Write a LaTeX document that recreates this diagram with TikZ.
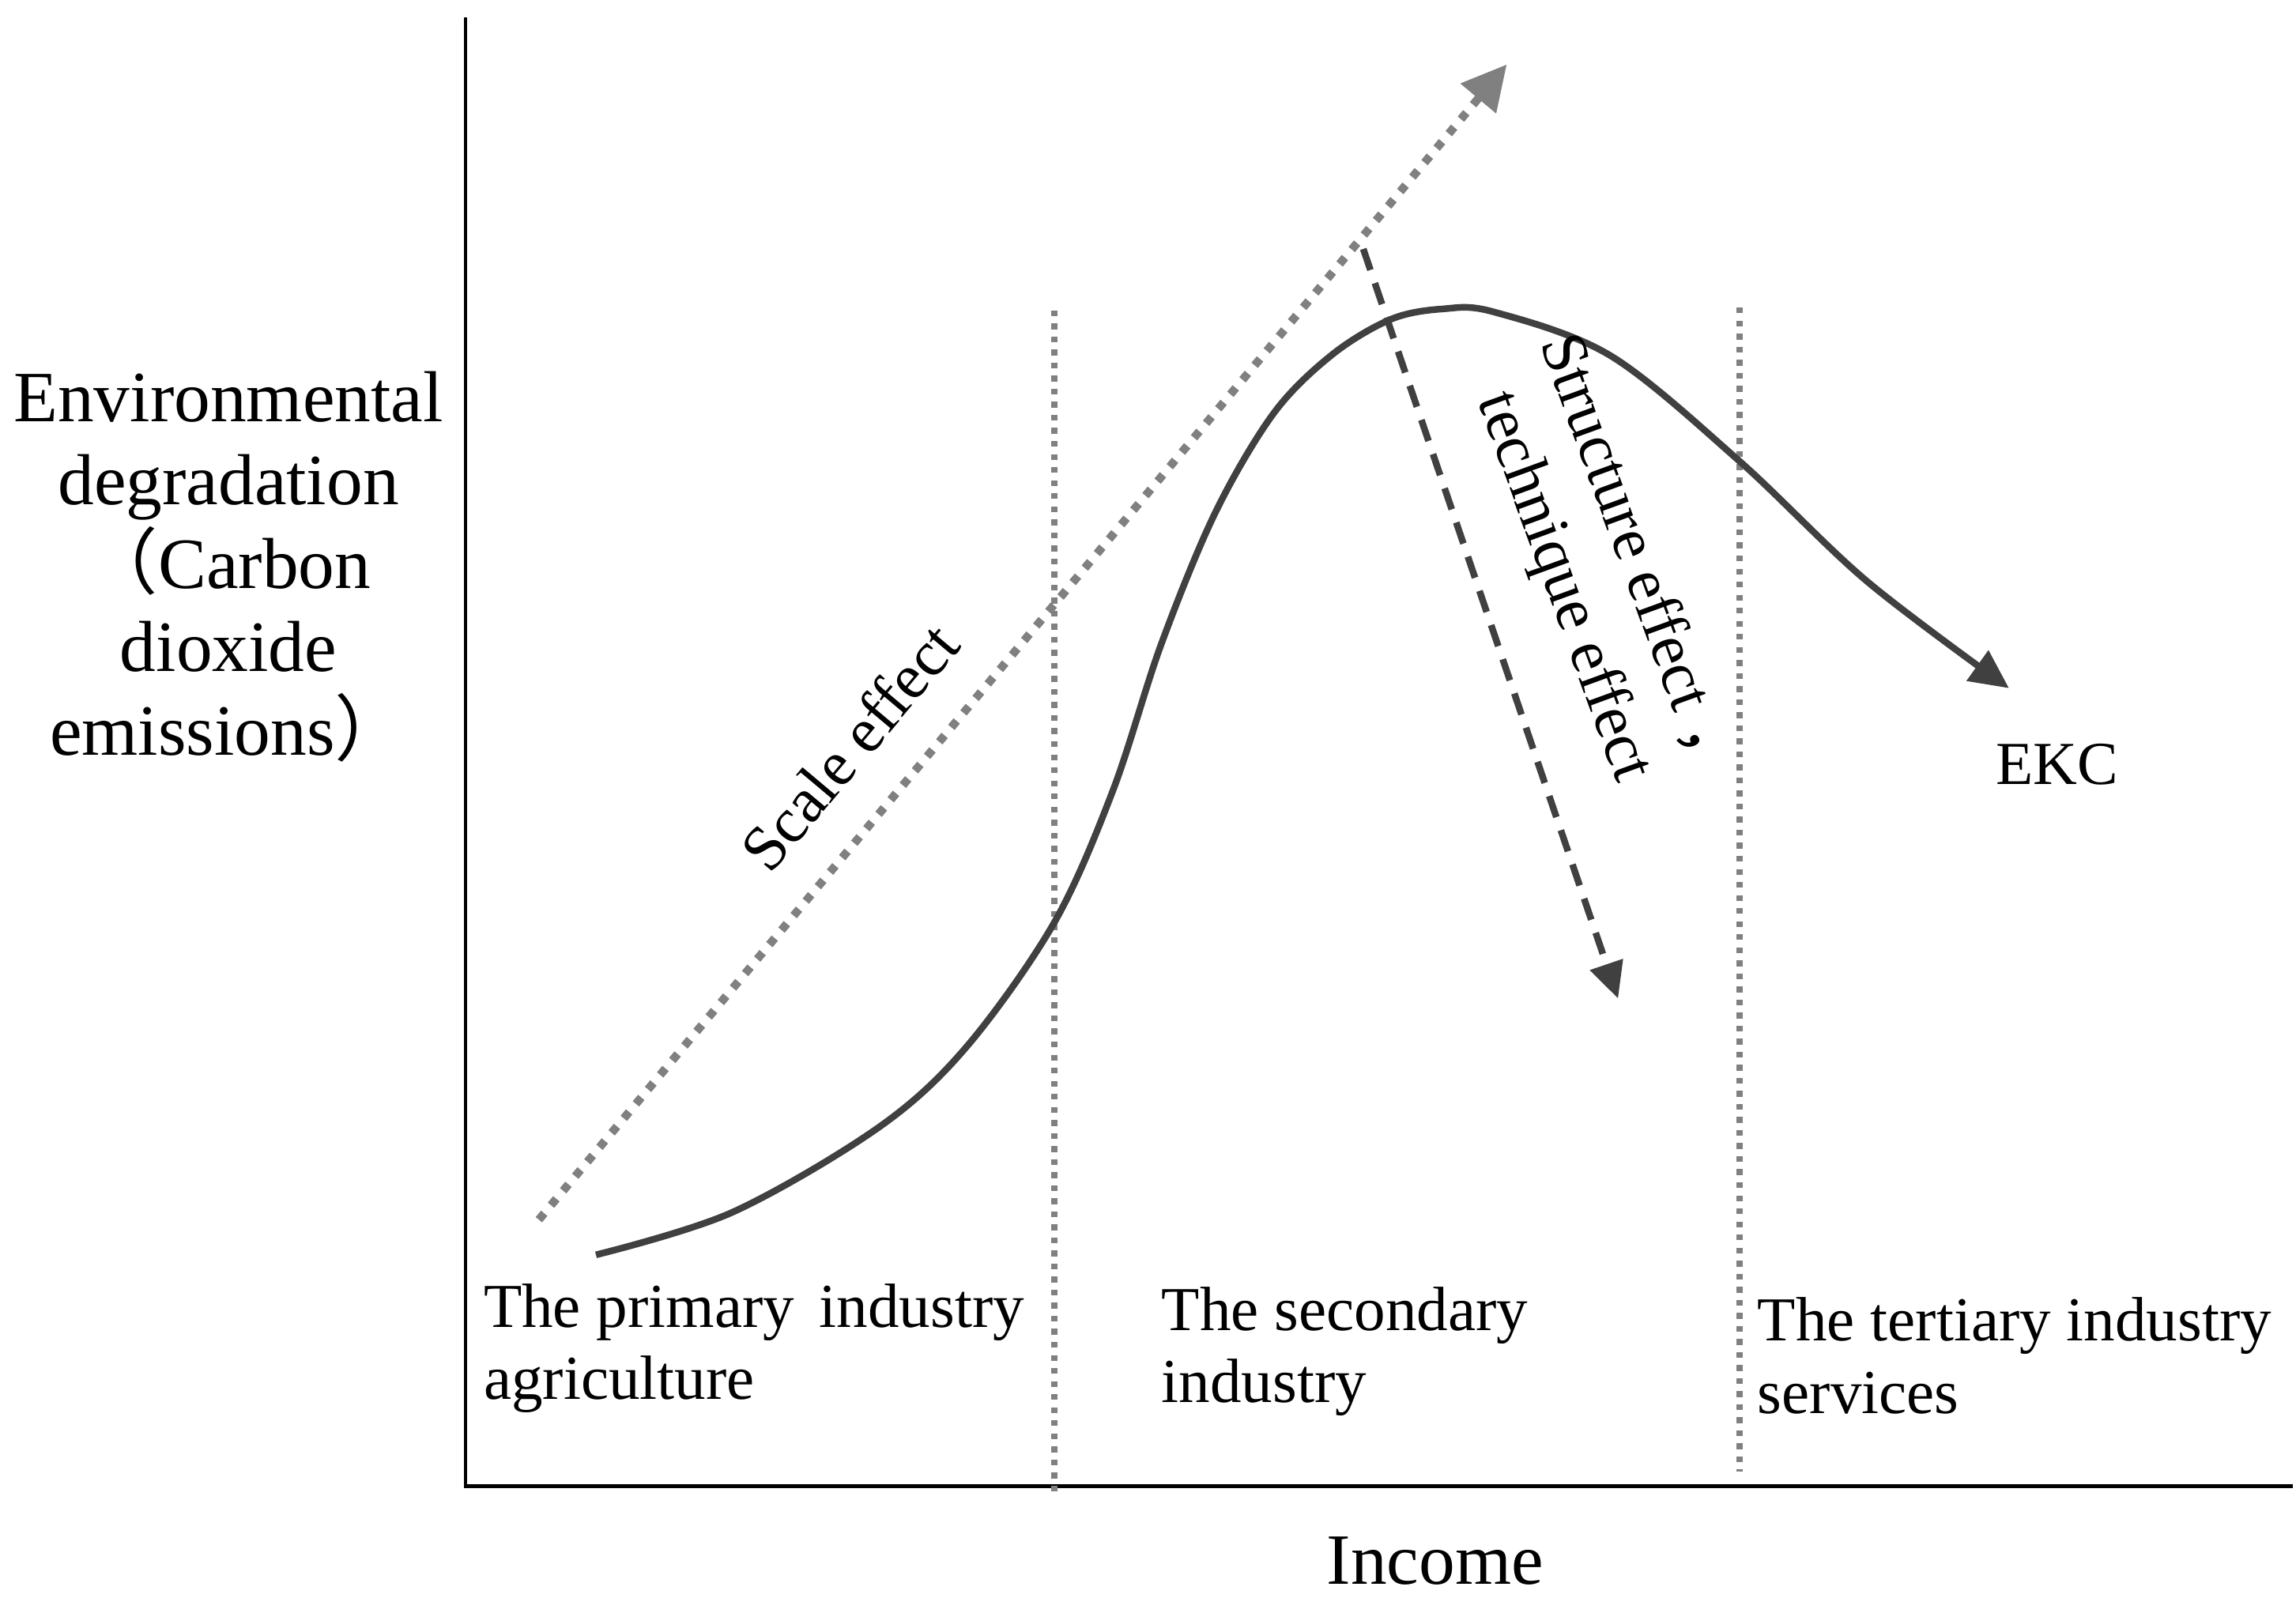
\documentclass[tikz,border=0pt]{standalone}
\usepackage{fontspec}
\setmainfont{Liberation Serif}
\newfontfamily\cjk{Noto Sans CJK SC}
\usetikzlibrary{arrows.meta}
\definecolor{midgray}{HTML}{808080}
\definecolor{inkgray}{HTML}{404040}
\begin{document}
\begin{tikzpicture}[x=0.018527cm, y=-0.018527cm,
  axis/.style={line width=1.3pt, black},
  divider/.style={line width=2.1pt, color=midgray, dash pattern=on 2.1pt off 2.6pt},
  scalearrow/.style={line width=3pt, color=midgray, dash pattern=on 3pt off 3.8pt, -{Triangle[length=16pt,width=16pt]}},
  techarrow/.style={line width=2.4pt, color=inkgray, dash pattern=on 8pt off 5pt, -{Triangle[length=13pt,width=12pt]}},
  ekc/.style={line width=2.4pt, color=inkgray, -{Triangle[length=14pt,width=13pt]}},
  ylab/.style={inner sep=0pt, align=center, font=\fontsize{26}{30}\selectfont},
  botlab/.style={inner sep=0pt, align=left, anchor=west, font=\fontsize{22.5}{26}\selectfont},
  efflab/.style={inner sep=0pt, align=center, font=\fontsize{23}{28}\selectfont}
]
\useasboundingbox (0,0) rectangle (1568,1091);

% axes
\coordinate (origin) at (318,1015);
\coordinate (ytop) at (318,12);
\coordinate (xend) at (1566,1015);
\draw[axis] (ytop) -- (origin) -- (xend);

% dividers
\coordinate (d1top) at (720,212);
\coordinate (d1bot) at (720,1020);
\coordinate (d2top) at (1188,210);
\coordinate (d2bot) at (1188,1005);
\draw[divider] (d1top) -- (d1bot);
\draw[divider] (d2top) -- (d2bot);

% scale effect arrow
\coordinate (sstart) at (368,833);
\coordinate (send) at (1029,44);
\draw[scalearrow] (sstart) -- (send);

% structure/technique effect arrow
\coordinate (tstart) at (931,170);
\coordinate (tend) at (1105,682);
\draw[techarrow] (tstart) -- (tend);

% EKC curve
\draw[ekc] plot[smooth, tension=0.55] coordinates {(407,857) (500,828) (600,770) (660,715) (720,630) (760,540) (793,440) (830,350) (870,282) (910,242) (950,218) (985,211) (1020,213) (1100,243) (1188,315) (1275,397) (1372,470)};

% labels
\node[ylab] (ylabel) at (156,387) {Environmental\\degradation\\{\cjk （}Carbon\\dioxide\\emissions{\cjk ）}};
\node[ylab] (income) at (980,1066) {Income};
\node[inner sep=0pt, font=\fontsize{22}{26}\selectfont] (ekclab) at (1405,522) {EKC};
\node[efflab, rotate=50] (scalelab) at (580,510) {Scale effect};
\node[efflab, rotate=-70] (techlab) at (1092,392) {Structure effect {\cjk ，}\\technique effect};

\node[botlab] (primary) at (330,921) {The primary\hspace{0.15em} industry\\agriculture};
\node[botlab] (secondary) at (793,923) {The secondary\\industry};
\node[botlab] (tertiary) at (1200,926) {The tertiary industry\\services};
\end{tikzpicture}
\end{document}
